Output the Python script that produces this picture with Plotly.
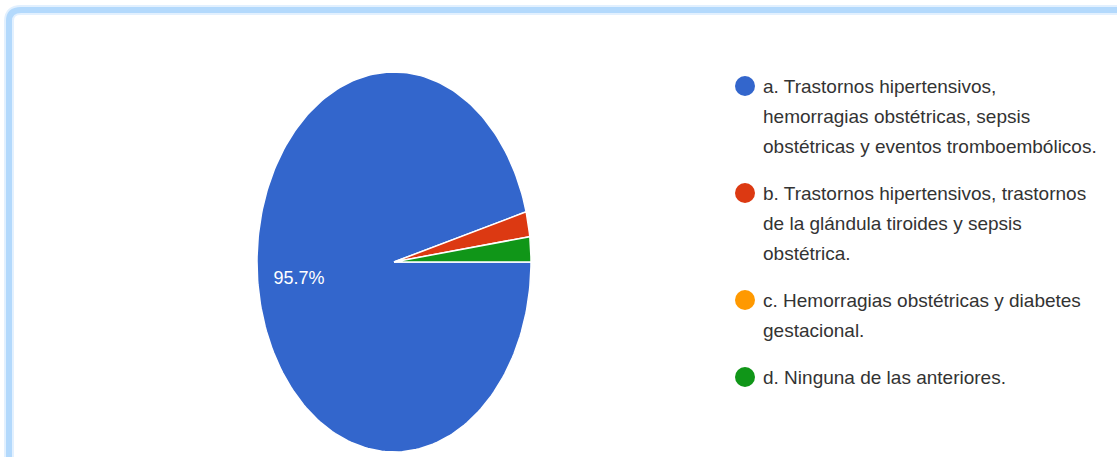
import numpy as np
import plotly.graph_objects as go

# Survey answers (response counts) and legend labels, one list entry per printed line
categories = [
    ["a. Trastornos hipertensivos,", "hemorragias obstétricas, sepsis",
     "obstétricas y eventos tromboembólicos."],
    ["b. Trastornos hipertensivos, trastornos", "de la glándula tiroides y sepsis",
     "obstétrica."],
    ["c. Hemorragias obstétricas y diabetes", "gestacional."],
    ["d. Ninguna de las anteriores."],
]
counts = [45, 1, 0, 1]
colors = ["#3366cc", "#dc3912", "#ff9900", "#109618"]

W, H = 1117, 457
# Elliptical pie geometry (axis units = pixels)
CX, CY, RX, RY = 394, 262, 137, 190
FONT = "Liberation Sans, Arial, sans-serif"

# Legend layout
LEG_X, LEG_Y0 = 745, 86
LINE_H, ITEM_GAP = 30, 17
TEXT_DX = 16

fig = go.Figure()

total = float(sum(counts))
start = 0.0
for val, col in zip(counts, colors):
    frac = val / total
    if frac > 0:
        t = np.linspace(start, start + frac, 240) * 2 * np.pi
        xs = np.concatenate([[CX], CX + RX * np.cos(t), [CX]])
        ys = np.concatenate([[CY], CY + RY * np.sin(t), [CY]])
        fig.add_trace(go.Scatter(
            x=xs, y=ys, mode="lines", fill="toself", fillcolor=col,
            line=dict(color="white", width=1.5), hoverinfo="skip",
            showlegend=False,
        ))
        if frac > 0.05:
            mid = (start + frac / 2) * 2 * np.pi
            fig.add_trace(go.Scatter(
                x=[CX + 0.7 * RX * np.cos(mid)], y=[CY + 0.7 * RY * np.sin(mid)],
                mode="text", text=[f"{frac * 100:.1f}%"],
                textfont=dict(family=FONT, size=18, color="white"),
                hoverinfo="skip", showlegend=False,
            ))
    start += frac

# Legend: coloured dot plus wrapped label lines
y = LEG_Y0
for lines, col in zip(categories, colors):
    fig.add_trace(go.Scatter(
        x=[LEG_X], y=[y], mode="markers", hoverinfo="skip", showlegend=False,
        marker=dict(symbol="circle", size=20, color=col, line=dict(width=0)),
    ))
    for k, line in enumerate(lines):
        fig.add_annotation(
            x=LEG_X + TEXT_DX, y=y + k * LINE_H, xref="x", yref="y",
            text=line, showarrow=False, xanchor="left", yanchor="middle",
            font=dict(family=FONT, size=19, color="#333333"),
        )
    y += len(lines) * LINE_H + ITEM_GAP

# Light blue frame with rounded top-left corner
frame = "M 9,470 L 9,21 Q 9,10 21,10 L 1130,10"
fig.add_shape(type="path", path=frame, xref="x", yref="y",
              line=dict(color="#e2f0fe", width=10), layer="below")
fig.add_shape(type="path", path=frame, xref="x", yref="y",
              line=dict(color="#b3d9fc", width=6), layer="below")

fig.update_layout(
    width=W, height=H,
    margin=dict(l=0, r=0, t=0, b=0, autoexpand=False),
    paper_bgcolor="white", plot_bgcolor="white",
    xaxis=dict(range=[0, W], visible=False, fixedrange=True),
    yaxis=dict(range=[H, 0], visible=False, fixedrange=True),
    showlegend=False,
)

fig.write_html("out.html")
